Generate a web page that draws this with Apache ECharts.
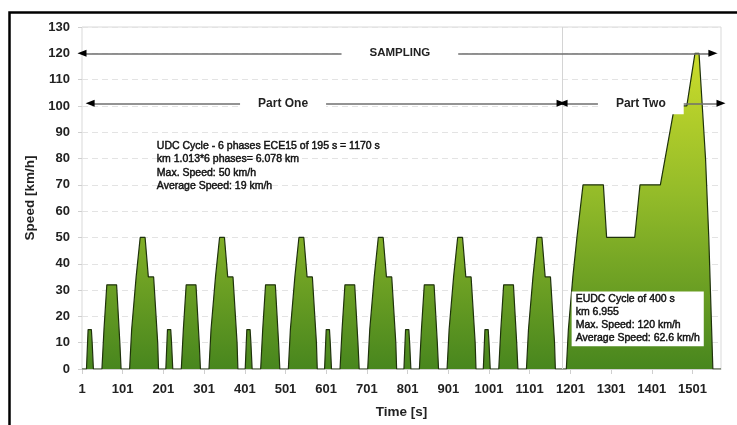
<!DOCTYPE html>
<html lang="en">
<head>
    <meta charset="UTF-8">
    <title>NEDC</title>
    <script src="https://cdn.jsdelivr.net/npm/echarts@6/dist/echarts.min.js"></script>
    <style>
        html,body{margin:0;padding:0;background:#fff}
        #chart{width:737px;height:425px}
    </style>
</head>
<body>
<div id="chart"></div>
<script>
/*
 * ECE15 urban phase (seconds inside a phase, km/h)
 */
var eceTime  = [0, 11, 15, 23, 25, 28, 49, 54, 56, 61, 85, 93, 96, 117, 122, 124, 133, 135, 143, 155, 163, 176, 186, 188, 195];
var eceSpeed = [0, 0, 15, 15, 10, 0, 0, 15, 15, 32, 32, 10, 0, 0, 15, 15, 35, 35, 50, 50, 35, 35, 10, 0, 0];
// the six phases start at
var phaseStart = [0, 195, 390, 585, 780, 975];

/*
 * EUDC extra-urban part, starts at 1170 s
 */
var eudcStart = 1170;
var eudcTime  = [0, 20, 25, 27, 36, 38, 46, 48, 61, 111, 119, 188, 201, 251, 286, 316, 336, 346, 362, 370, 380, 400];
var eudcSpeed = [0, 0, 15, 15, 35, 35, 50, 50, 70, 70, 50, 50, 70, 70, 100, 100, 120, 120, 80, 50, 0, 0];

var yTicks = [0, 130, 10];   // min, max, step
var xTicks = [0, 1570, 100];

var udcText = [
    'UDC Cycle - 6 phases ECE15 of 195 s = 1170 s',
    'km 1.013*6 phases= 6.078 km',
    'Max. Speed: 50 km/h',
    'Average Speed: 19 km/h'
];
var eudcText = [
    'EUDC Cycle of 400 s',
    'km 6.955',
    'Max. Speed: 120 km/h',
    'Average Speed: 62.6 km/h'
];

var font = "'Liberation Sans', Arial, sans-serif";

var cycle = [];
for (var p = 0; p < phaseStart.length; p++) {
    for (var i = 0; i < eceTime.length; i++) {
        cycle.push([phaseStart[p] + eceTime[i], eceSpeed[i]]);
    }
}
for (var j = 0; j < eudcTime.length; j++) {
    cycle.push([eudcStart + eudcTime[j], eudcSpeed[j]]);
}

var grey = '#6f6f6f';
var black = '#000';
function arrowLine(x1, x2, y) {
    return [{coord: [x1, y], symbol: 'none'}, {coord: [x2, y], symbol: 'none'}];
}
function arrowHead(x1, x2, y) {
    // short black piece carrying the arrow tip at x2
    return [{coord: [x1, y], symbol: 'none', lineStyle: {color: black, width: 1.5}},
            {coord: [x2, y], symbol: 'triangle', symbolSize: [7, 9]}];
}
function tag(name, x, y, size, pad) {
    return {
        coord: [x, y], symbol: 'circle', symbolSize: 0,
        label: {
            show: true, position: 'inside', formatter: name,
            fontFamily: font, fontWeight: 'bold', fontSize: size, color: '#222',
            backgroundColor: '#fff', padding: pad
        }
    };
}
function note(lines, x, y, bg) {
    return {
        coord: [x, y], symbol: 'circle', symbolSize: 0,
        label: {
            show: true, position: [0, 0], align: 'left', verticalAlign: 'top',
            formatter: lines.join('\n'),
            fontFamily: font, fontSize: 10.5, color: '#111', lineHeight: 13.2,
            textBorderColor: '#111', textBorderWidth: 0.45,
            backgroundColor: bg, padding: [1, 4]
        }
    };
}

var myChart = echarts.init(document.getElementById('chart'), null, {renderer: 'canvas'});
var option = {};
option.backgroundColor = '#fff';
option.animation = false;
option.grid = {
    left: 82, right: 16, top: 27, bottom: 56,
    show: true, borderColor: '#d9d9d9', borderWidth: 1
};
option.xAxis = {
    type: 'value', min: xTicks[0], max: xTicks[1], interval: xTicks[2],
    name: 'Time [s]', nameLocation: 'middle', nameGap: 36,
    nameTextStyle: {fontFamily: font, fontWeight: 'bold', fontSize: 13.5, color: '#222'},
    axisLine: {show: true, lineStyle: {color: '#cfcfcf'}},
    axisTick: {show: true, length: 5, lineStyle: {color: '#cfcfcf'}},
    splitLine: {show: false},
    axisLabel: {
        margin: 14, fontFamily: font, fontWeight: 'bold', fontSize: 13, color: '#222',
        showMaxLabel: false,
        formatter: function (v) { return v % 100 === 0 ? String(v + 1) : ''; }
    }
};
option.yAxis = {
    type: 'value', min: yTicks[0], max: yTicks[1], interval: yTicks[2],
    name: 'Speed [km/h]', nameLocation: 'middle', nameGap: 42,
    nameTextStyle: {fontFamily: font, fontWeight: 'bold', fontSize: 13.5, color: '#222'},
    axisLine: {show: false},
    axisTick: {show: true, length: 4, lineStyle: {color: '#cfcfcf'}},
    splitLine: {show: true, lineStyle: {color: '#e3e3e3', type: [6, 4]}},
    axisLabel: {margin: 12, fontFamily: font, fontWeight: 'bold', fontSize: 13, color: '#222'}
};
option.graphic = [{
    type: 'rect', silent: true, z: 100,
    shape: {x: 9.5, y: 12.5, width: 760, height: 440},
    style: {fill: 'none', stroke: '#000', lineWidth: 2.5}
}];
option.series = [
    {
        name: 'NEDC', type: 'line', data: cycle, z: 2,
        showSymbol: false, symbol: 'none',
        lineStyle: {color: '#1f320c', width: 1.2},
        areaStyle: {
            opacity: 1,
            color: new echarts.graphic.LinearGradient(0, 0, 0, 1, [
                {offset: 0, color: '#cbdc2b'},
                {offset: 0.45, color: '#93bb29'},
                {offset: 1, color: '#48861e'}
            ])
        }
    },
    {
        name: 'notes', type: 'line', data: [], z: 5,
        markLine: {
            silent: true, animation: false, symbol: ['none', 'none'],
            label: {show: false},
            lineStyle: {color: grey, width: 1.5, type: 'solid'},
            data: [
                [{coord: [1179, 0], symbol: 'none', lineStyle: {color: '#d4d4d4', width: 1}},
                 {coord: [1179, 130], symbol: 'none'}],
                arrowLine(0, 1550, 120),
                arrowLine(20, 1177, 101),
                arrowLine(1182, 1570, 101),
                arrowHead(5, 0, 120),
                arrowHead(1545, 1550, 120),
                arrowHead(25, 20, 101),
                arrowHead(1172, 1177, 101),
                arrowHead(1187, 1182, 101),
                arrowHead(1565, 1570, 101)
            ]
        },
        markPoint: {
            silent: true, animation: false,
            data: [
                tag('SAMPLING', 781, 120, 11.5, [3, 28]),
                tag('Part One', 494, 101, 12, [3, 18]),
                tag('Part Two', 1373, 101, 12, [5, 18]),
                note(udcText, 174, 87.5, 'transparent'),
                note(eudcText, 1203, 29.5, '#fff')
            ]
        }
    }
];
myChart.setOption(option, true);
</script>
</body>
</html>
